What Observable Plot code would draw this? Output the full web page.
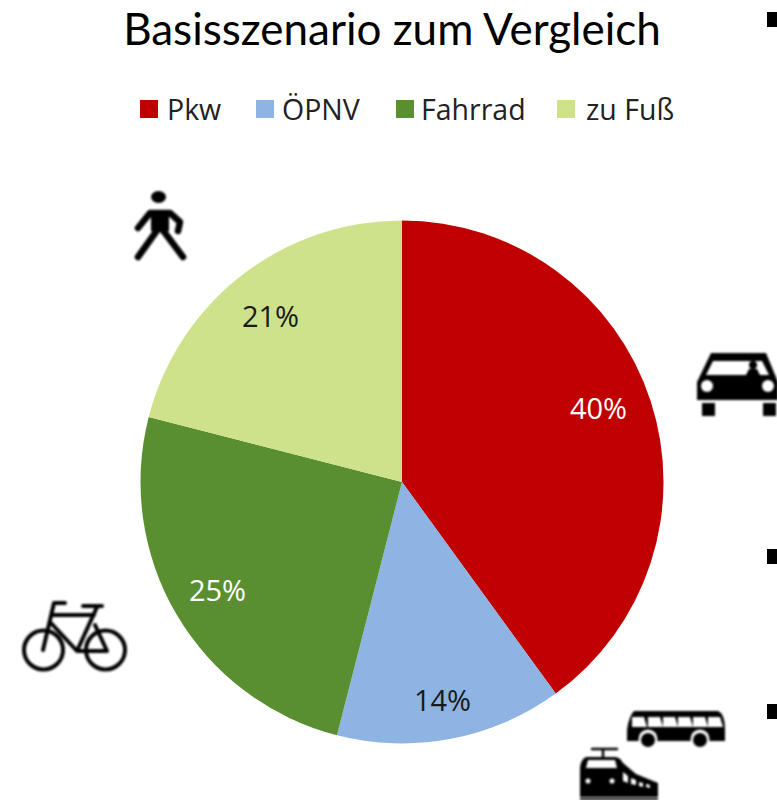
<!DOCTYPE html>
<html lang="de"><head><meta charset="utf-8">
<script src="https://cdn.jsdelivr.net/npm/d3@7"></script>
<script src="https://cdn.jsdelivr.net/npm/@observablehq/plot@0.6"></script>
<style>
html,body{margin:0;padding:0;background:#fff;width:777px;height:800px;overflow:hidden;position:relative}
#title{position:absolute;left:0;top:2px;width:784px;text-align:center;font:44px Lato,sans-serif;color:#000;white-space:nowrap}
#legend{position:absolute;left:0;top:90px;height:40px;font:28.5px "Open Sans",sans-serif;color:#222}
#legend span{position:absolute;top:0;white-space:nowrap;line-height:38px}
#legend i{position:absolute;top:10px;width:18px;height:18px}
#bullet{position:absolute;left:767px;top:12px;width:10px;height:15px;background:#000}
#chart{position:absolute;left:0;top:130px}
svg{display:block}
</style></head><body>
<div id="title">Basisszenario zum Vergleich</div>
<div id="legend"></div>
<div id="bullet"></div>
<div id="chart"></div>
<script>
const modes = ["Pkw","ÖPNV","Fahrrad","zu Fuß"];
const shares = [40,14,25,21];
const colors = ["#c00000","#8eb4e3","#5a8f31","#cde28a"];
const labelColors = ["#fff","#1a1a1a","#fff","#1a1a1a"];
const labelX = [598,442,217,270];
const labelY = [409,701,591,317];
const legendX = [[140,167],[256,282],[396,421],[557,586]];
const pieCenter = [402,482];
const pieRadius = 261.5;
const bullets = [[767,549,777,564],[767,704,777,719]];

const rows = modes.map((mode,i)=>({mode,share:shares[i],order:i}));
const pie = d3.pie().value(d=>d.share).sort(null)(rows);
rows.forEach((r,i)=>{r.a0=pie[i].startAngle;r.a1=pie[i].endAngle;
  r.lx=labelX[i];r.ly=labelY[i];});

const legend=document.getElementById("legend");
modes.forEach((m,i)=>{
  const sw=document.createElement("i");sw.style.left=legendX[i][0]+"px";sw.style.background=colors[i];legend.append(sw);
  const t=document.createElement("span");t.textContent=m;t.style.left=legendX[i][1]+"px";legend.append(t);
});

// icons, in reference pixel units
const iconStrokes = [
  {d:"M138 228L150 213L170 213L180 222L178 231",w:6.5},
  {d:"M158 229L138 257M162 229L183 257",w:6.5},
  {d:"M65 603L54 603L43 650M52 615L94 615M83 606L102 606M97 607L77 651M50 622L77 651L107 651L95 625",w:4},
  {d:"M592 749L617 749M603 749L603 757",w:2.5}
];
const iconFills = [
  {d:"M151 197a7.5 6 0 1 0 15 0a7.5 6 0 1 0 -15 0Z",f:"#000"},
  {d:"M151 212H169V231H151Z",f:"#000"},
  {d:"M697 382L711 353H766L778 382V400H697Z",f:"#000"},
  {d:"M706 375L713 361H762L769 375Z",f:"#fff"},
  {d:"M746 375L749 369L757 369L760 375Z",f:"#000"},
  {d:"M702 403H715V416H702ZM763 403H776V416H763Z",f:"#000"},
  {d:"M634 711H718Q725 714 725 730V741H627V730Q629 716 634 711Z",f:"#000"},
  {d:"M586 757H615Q620 757 623 763L636 774L658 783V797H580V770Q580 760 586 757Z",f:"#000"},
  {d:"M588 760H615L617 768H586Z",f:"#fff"},
  {d:"M623 772L628 776V783L623 781ZM631 778L636 780V785L631 784ZM639 782L643 783V787L639 786ZM646 784L650 785V788L646 787Z",f:"#fff"}
];
const iconCircles = [
  [43.5,650,19.5,"none","#000"],[105.5,650,19.5,"none","#000"],
  [753,365,4,"#000",null],
  [707,386,6,"#fff",null],[768,386,6,"#fff",null],
  [648,739,9.5,"#fff",null],[700,739,9.5,"#fff",null],[648,740,7,"#000",null],[700,740,7,"#000",null],
  [588,781,2.5,"#fff",null],[612,781,2.5,"#fff",null]
];
const busWindows = [632,648,663,678,693,708];

function iconMark(index,scales,values,dims,ctx){
  const doc=ctx.document, ns="http://www.w3.org/2000/svg";
  const X=scales.x, Y=scales.y;
  const g=doc.createElementNS(ns,"g");
  g.setAttribute("transform",`translate(${X(0)},${Y(0)})`);
  g.setAttribute("style","filter:blur(0.9px)");
  const add=(n,a)=>{const e=doc.createElementNS(ns,n);for(const k in a)e.setAttribute(k,a[k]);g.append(e);};
  iconFills.forEach(o=>add("path",{d:o.d,fill:o.f}));
  busWindows.forEach(x=>add("path",{d:`M${x} 717h12l3 10h-15z`,fill:"#fff"}));
  iconStrokes.forEach(o=>add("path",{d:o.d,fill:"none",stroke:"#000","stroke-width":o.w,"stroke-linecap":"round","stroke-linejoin":"round"}));
  iconCircles.forEach(([cx,cy,r,f,s])=>add("circle",{cx,cy,r,fill:f,...(s?{stroke:s,"stroke-width":4}:{})}));
  add("rect",{x:580,y:798,width:78,height:2,fill:"#000"});
  return g;
}

const plot = Plot.plot({
  width:777,height:670,margin:0,
  x:{domain:[0,777],range:[0,777],axis:null},
  y:{domain:[130,800],range:[0,670],axis:null},
  color:{domain:modes,range:colors},
  style:{background:"transparent"},
  marks:[
    Plot.dot(rows,{x:()=>pieCenter[0],y:()=>pieCenter[1],fill:"mode",r:pieRadius,
      render(index,scales,values,dims,ctx){
        const ns="http://www.w3.org/2000/svg", g=ctx.document.createElementNS(ns,"g");
        const arc=d3.arc().innerRadius(0).outerRadius(scales.x(pieRadius)-scales.x(0));
        for(const i of index){
          const p=ctx.document.createElementNS(ns,"path");
          p.setAttribute("d",arc({startAngle:rows[i].a0,endAngle:rows[i].a1}));
          p.setAttribute("fill",values.fill[i]);
          p.setAttribute("transform",`translate(${values.x[i]},${values.y[i]})`);
          g.append(p);
        }
        return g;
      }}),
    Plot.text(rows,{x:"lx",y:"ly",text:d=>d.share+"%",fill:(d)=>labelColors[d.order],
      fontSize:29,fontFamily:"Open Sans"}),
    Plot.rect(bullets,{x1:"0",y1:"1",x2:"2",y2:"3",fill:"#000"}),
    iconMark
  ]
});
document.getElementById("chart").append(plot);
</script>
</body></html>
